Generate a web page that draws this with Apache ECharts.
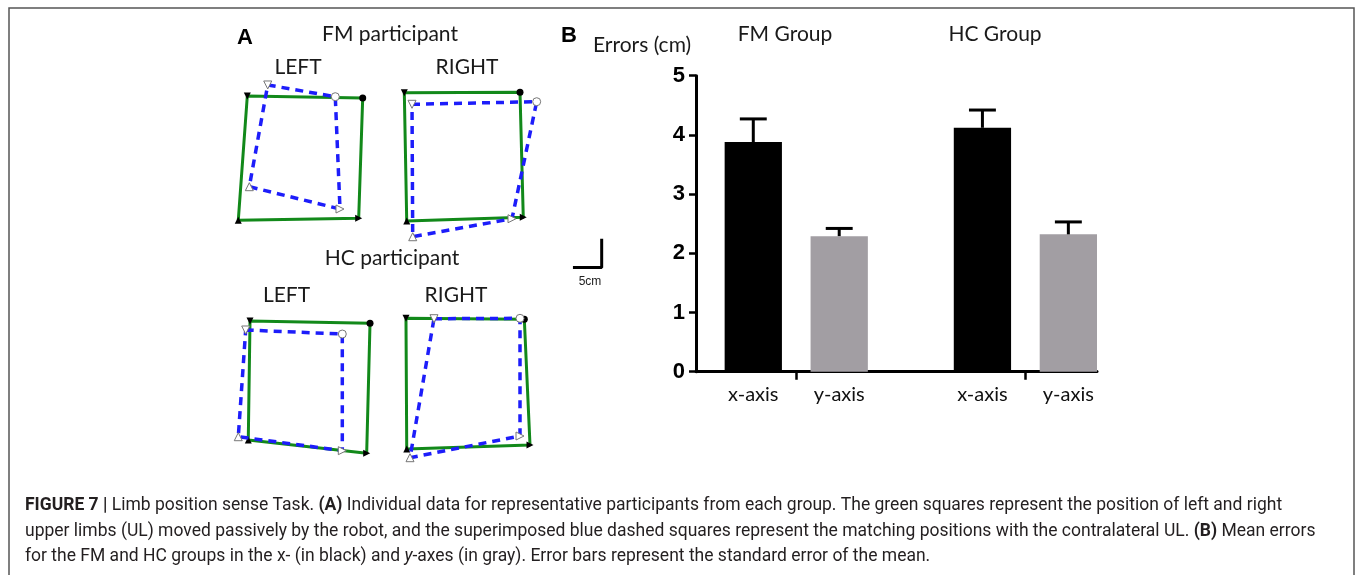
<!DOCTYPE html>
<html>
<head>
<meta charset="utf-8">
<title>Figure 7 - Limb position sense</title>
<script src="https://cdn.jsdelivr.net/npm/echarts@6/dist/echarts.min.js"></script>
<style>
  html, body { margin: 0; padding: 0; background: #fff; }
  #chart { width: 1355px; height: 575px; }
</style>
</head>
<body>
<div id="chart"></div>
<script>
// Panel A: corner points in cm, order TL, TR, BR, BL
// target = position moved by the robot (green), match = contralateral match (blue dashed)
const fmLeftTarget = [[3.01, 23.65], [23.08, 23.30], [22.38, 2.38], [1.44, 2.03]];
const fmLeftMatch = [[6.56, 25.57], [18.31, 23.53], [19.13, 4.00], [3.36, 7.88]];
const fmRightTarget = [[0.75, 25.62], [20.87, 25.69], [21.44, 3.95], [1.17, 3.30]];
const fmRightMatch = [[2.09, 23.60], [23.77, 24.05], [19.48, 3.70], [2.21, 0.57]];
const hcLeftTarget = [[3.48, 24.17], [24.35, 23.77], [23.77, 1.17], [3.18, 3.48]];
const hcLeftMatch = [[2.73, 22.61], [19.53, 21.91], [19.53, 1.62], [1.44, 4.05]];
const hcRightTarget = [[1.04, 24.99], [21.62, 24.82], [22.61, 2.96], [1.17, 2.26]];
const hcRightMatch = [[5.91, 24.92], [20.87, 24.99], [20.87, 4.52], [1.74, 0.75]];
const scaleBarCm = [[2.25, 2], [7.25, 2], [7.25, 7]];

// Panel B: mean errors (cm) and SEM
const groups = ['FM Group', 'HC Group'];
const xAxisMean = [3.88, 4.12];
const xAxisSem = [0.39, 0.30];
const yAxisMean = [2.29, 2.32];
const yAxisSem = [0.13, 0.21];
const errTicks = [0, 1, 2, 3, 4, 5];

const chart = echarts.init(document.getElementById('chart'), null, { renderer: 'canvas' });

const K = 5.75; // px per cm in panel A
const CM_W = 26, CM_H = 28;
const headFont = 'Lato, "Open Sans", sans-serif';

// small plots of panel A: left edge and bottom edge in px
const plotBoxes = [
  { left: 230, bottom: 232 },
  { left: 400, bottom: 240 },
  { left: 230, bottom: 460 },
  { left: 400, bottom: 462 },
  { left: 560, bottom: 279 } // scale bar
];

// corner markers: TL down triangle, TR circle, BR right triangle, BL up triangle
const cornerMarks = [
  { symbol: 'triangle', rotate: 180 },
  { symbol: 'circle', rotate: 0 },
  { symbol: 'triangle', rotate: -90 },
  { symbol: 'triangle', rotate: 0 }
];

function outline(points) {
  const data = points.map((p, j) => ({
    value: p,
    symbol: cornerMarks[j].symbol,
    symbolRotate: cornerMarks[j].rotate
  }));
  data.push({ value: points[0], symbol: 'none' });
  return data;
}

const shapes = [
  [fmLeftTarget, fmLeftMatch],
  [fmRightTarget, fmRightMatch],
  [hcLeftTarget, hcLeftMatch],
  [hcRightTarget, hcRightMatch]
];

const grids = plotBoxes.map(b => ({
  left: b.left, top: b.bottom - CM_H * K, width: CM_W * K, height: CM_H * K
}));
grids.push({ left: 696, top: 75.7, width: 401, height: 296 });

const xAxes = plotBoxes.map((b, i) => ({ gridIndex: i, type: 'value', min: 0, max: CM_W, show: false }));
const yAxes = plotBoxes.map((b, i) => ({ gridIndex: i, type: 'value', min: 0, max: CM_H, show: false }));

// bar chart axes (x in bar-width units)
xAxes.push({
  gridIndex: 5, type: 'value', min: 0, max: 7,
  axisLine: { show: true, lineStyle: { color: '#000', width: 3 } },
  axisTick: { show: true, length: 8, customValues: [1.75, 5.75], lineStyle: { color: '#000', width: 2.5 } },
  axisLabel: { show: false },
  splitLine: { show: false }
});
yAxes.push({
  gridIndex: 5, type: 'value', min: errTicks[0], max: errTicks[errTicks.length - 1], interval: 1,
  axisLine: { show: true, lineStyle: { color: '#000', width: 3 } },
  axisTick: { show: true, length: 7, lineStyle: { color: '#000', width: 2.5 } },
  axisLabel: { color: '#000', fontSize: 22, fontWeight: 'bold', fontFamily: 'Arial, "Liberation Sans", sans-serif', margin: 11 },
  splitLine: { show: false }
});

const series = [];
shapes.forEach(([target, match], i) => {
  series.push({
    type: 'line', xAxisIndex: i, yAxisIndex: i, data: outline(target),
    symbolSize: 7, clip: false, silent: true, z: 2,
    lineStyle: { color: '#12891a', width: 3 },
    itemStyle: { color: '#000' }
  });
  series.push({
    type: 'line', xAxisIndex: i, yAxisIndex: i, data: outline(match),
    symbolSize: 8, clip: false, silent: true, z: 3,
    lineStyle: { color: '#1d1dfa', width: 3.5, type: [8, 6] },
    itemStyle: { color: '#fff', borderColor: '#777', borderWidth: 1 }
  });
});

// scale bar (5 cm) in panel A units
series.push({
  type: 'line', xAxisIndex: 4, yAxisIndex: 4, data: scaleBarCm,
  showSymbol: false, clip: false, silent: true,
  lineStyle: { color: '#000', width: 3 }
});

// bars: x-axis (black) and y-axis (gray)
const barLabel = {
  show: true, position: 'bottom', distance: 13,
  formatter: p => p.seriesName,
  color: '#111', fontSize: 20, fontFamily: headFont
};
series.push({
  name: 'x-axis', type: 'bar', xAxisIndex: 5, yAxisIndex: 5,
  data: groups.map((g, i) => [1 + 4 * i, xAxisMean[i]]),
  barWidth: 401 / 7, barGap: '-100%',
  itemStyle: { color: '#000' }, label: barLabel
});
series.push({
  name: 'y-axis', type: 'bar', xAxisIndex: 5, yAxisIndex: 5,
  data: groups.map((g, i) => [2.5 + 4 * i, yAxisMean[i]]),
  barWidth: 401 / 7, barGap: '-100%',
  itemStyle: { color: '#a29ea3' }, label: barLabel
});

// error bars (upper half only)
const errData = [];
groups.forEach((g, i) => {
  errData.push([1 + 4 * i, xAxisMean[i], xAxisSem[i]]);
  errData.push([2.5 + 4 * i, yAxisMean[i], yAxisSem[i]]);
});
series.push({
  type: 'custom', xAxisIndex: 5, yAxisIndex: 5, data: errData, z: 5,
  renderItem: (params, api) => {
    const base = api.coord([api.value(0), api.value(1)]);
    const top = api.coord([api.value(0), api.value(1) + api.value(2)]);
    const half = api.size([0.47, 0])[0] / 2;
    const st = { stroke: '#000', lineWidth: 3 };
    return {
      type: 'group',
      children: [
        { type: 'line', shape: { x1: base[0], y1: base[1], x2: top[0], y2: top[1] }, style: st },
        { type: 'line', shape: { x1: top[0] - half, y1: top[1], x2: top[0] + half, y2: top[1] }, style: st }
      ]
    };
  }
});

function label(text, x, y, size, opts) {
  return {
    type: 'text', x: x, y: y, silent: true,
    style: Object.assign({
      text: text, fill: '#1a1a1a', fontSize: size, fontFamily: headFont,
      align: 'center', verticalAlign: 'middle'
    }, opts || {})
  };
}

const capFont = 'Roboto, "Liberation Sans", sans-serif';
const capSize = 17.5;
function captionLine(text, y) {
  return {
    type: 'text', x: 25, y: y, silent: true,
    style: {
      text: text, fill: '#231f20', fontSize: capSize, fontFamily: capFont,
      align: 'left', verticalAlign: 'middle', rich: {
        b: { fontWeight: 'bold', fontSize: capSize, fontFamily: capFont, fill: '#231f20' },
        i: { fontStyle: 'italic', fontSize: capSize, fontFamily: capFont, fill: '#231f20' }
      }
    }
  };
}

const graphics = [
  { type: 'rect', silent: true, shape: { x: 9, y: 8, width: 1345, height: 620 },
    style: { fill: 'none', stroke: '#555', lineWidth: 1.5 } },
  label('A', 245, 38, 22, { fontWeight: 'bold', fontFamily: 'Arial, "Liberation Sans", sans-serif', fill: '#000' }),
  label('FM participant', 390, 34, 21),
  label('LEFT', 298, 67, 21),
  label('RIGHT', 467, 67, 21),
  label('HC participant', 392, 258, 21),
  label('LEFT', 286.5, 295, 21),
  label('RIGHT', 456, 295, 21),
  label('B', 569, 36, 22, { fontWeight: 'bold', fontFamily: 'Arial, "Liberation Sans", sans-serif', fill: '#000' }),
  label('Errors (cm)', 593, 45, 21, { align: 'left' }),
  label(groups[0], 785, 34, 21),
  label(groups[1], 995, 34, 21),
  label('5cm', 590, 282, 12, { fontFamily: '"Liberation Sans Narrow", Arial, sans-serif', fill: '#222' }),
  captionLine('{b|FIGURE 7 |} Limb position sense Task. {b|(A)} Individual data for representative participants from each group. The green squares represent the position of left and right', 506),
  captionLine('upper limbs (UL) moved passively by the robot, and the superimposed blue dashed squares represent the matching positions with the contralateral UL. {b|(B)} Mean errors', 531.5),
  captionLine('for the FM and HC groups in the x- (in black) and {i|y}-axes (in gray). Error bars represent the standard error of the mean.', 557)
];

const option = {
  backgroundColor: '#fff',
  animation: false,
  grid: grids,
  xAxis: xAxes,
  yAxis: yAxes,
  series: series,
  graphic: graphics
};

chart.setOption(option);
</script>
</body>
</html>
